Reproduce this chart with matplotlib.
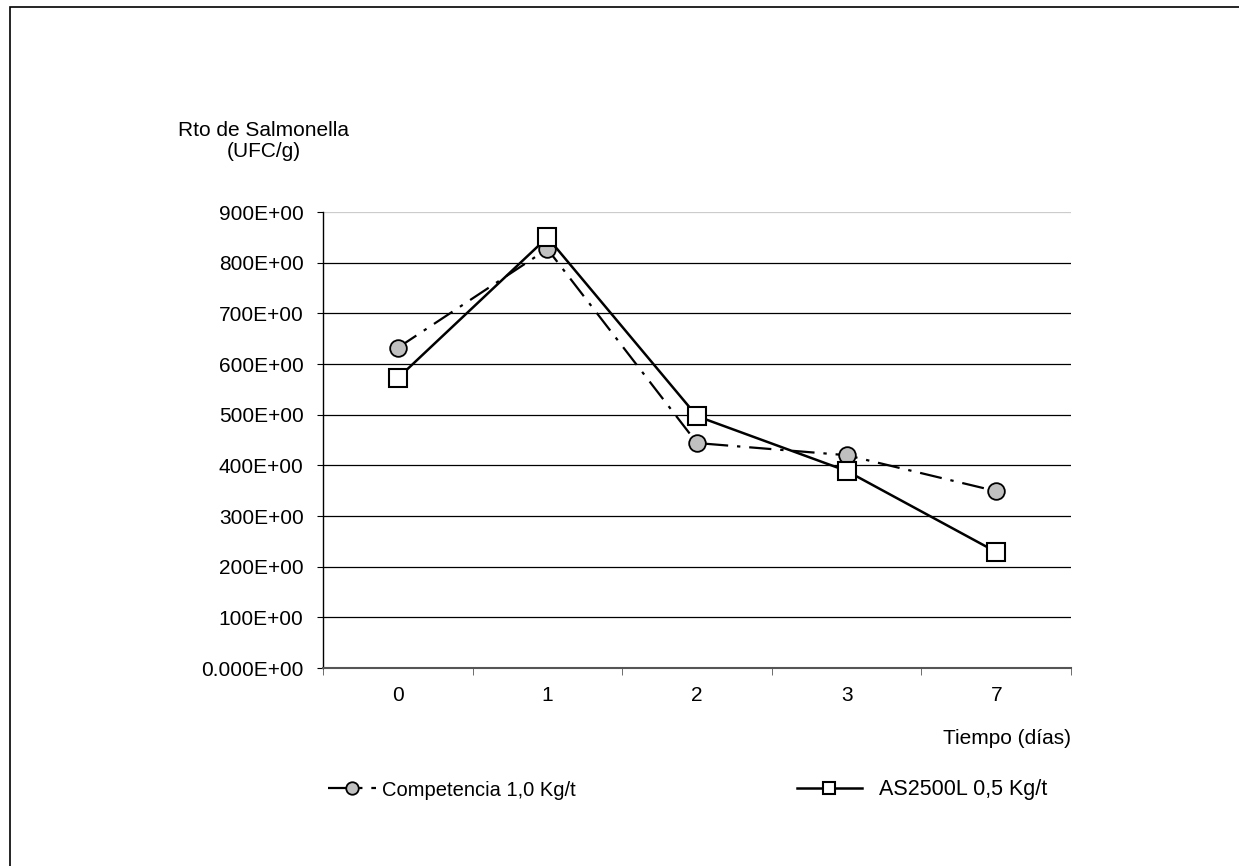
import numpy as np
import matplotlib.pyplot as plt
from matplotlib.patches import Rectangle

plt.rcParams['font.family'] = ['Liberation Sans', 'DejaVu Sans']

dias = ['0', '1', '2', '3', '7']
competencia = [632, 827, 444, 420, 349]
as2500l = [572, 850, 497, 389, 229]
yticks = [0, 100, 200, 300, 400, 500, 600, 700, 800, 900]
ylabels = ['0.000E+00', '100E+00', '200E+00', '300E+00', '400E+00',
           '500E+00', '600E+00', '700E+00', '800E+00', '900E+00']

fig = plt.figure(figsize=(12.39, 8.66), dpi=100)
fig.patches.append(Rectangle((10 / 1239, -0.1), 1.2, 1.1 - 7 / 866,
                             transform=fig.transFigure, fill=False,
                             edgecolor='black', linewidth=1.2))

ax = fig.add_axes([323 / 1239, 1 - 668 / 866, 748 / 1239, 456 / 866])
x = np.arange(len(dias))

l1, = ax.plot(x, competencia, color='black', linestyle=(0, (10, 4, 1.5, 4)), linewidth=1.6,
              marker='o', markersize=12, markerfacecolor='#c0c0c0',
              markeredgecolor='black', markeredgewidth=1.3, zorder=3)
l2, = ax.plot(x, as2500l, color='black', linestyle='-', linewidth=1.8,
              marker='s', markersize=12.5, markerfacecolor='white',
              markeredgecolor='black', markeredgewidth=1.5, zorder=4)

ax.set_xlim(-0.5, len(dias) - 0.5)
ax.set_ylim(0, 900)
ax.set_yticks(yticks)
ax.set_yticklabels(ylabels, fontsize=15)
ax.set_xticks(x)
ax.set_xticklabels(dias, fontsize=15)
ax.set_xticks(np.arange(len(dias) + 1) - 0.5, minor=True)
ax.tick_params(axis='x', which='major', length=0, pad=13)
ax.tick_params(axis='x', which='minor', length=5, direction='out', color='#555555')
ax.tick_params(axis='y', length=4, direction='out', pad=10)

for v in yticks[1:-1]:
    ax.axhline(v, color='black', linewidth=0.9, zorder=1)
ax.axhline(yticks[-1], color='#cccccc', linewidth=0.9, zorder=1)

for s in ['top', 'right']:
    ax.spines[s].set_visible(False)
ax.spines['left'].set_linewidth(1.0)
ax.spines['bottom'].set_color('#555555')
ax.spines['bottom'].set_linewidth(1.5)

fig.text(264 / 1239, 1 - 141 / 866, 'Rto de Salmonella\n(UFC/g)', ha='center',
         va='center', fontsize=15, linespacing=1.1)
fig.text(1071 / 1239, 1 - 738 / 866, 'Tiempo (días)', ha='right', va='center', fontsize=15)

leg1 = fig.legend([l1], ['Competencia 1,0 Kg/t'], loc='center left',
                  bbox_to_anchor=(328 / 1239, 1 - 790 / 866), frameon=False,
                  fontsize=14.5, handlelength=2.4, borderpad=0, borderaxespad=0,
                  handletextpad=0.3)
leg2 = fig.legend([l2], ['AS2500L 0,5 Kg/t'], loc='center left',
                  bbox_to_anchor=(797 / 1239, 1 - 790 / 866), frameon=False,
                  fontsize=15.5, handlelength=3.0, borderpad=0, borderaxespad=0,
                  handletextpad=0.8)
for leg in (leg1, leg2):
    for h in leg.legend_handles:
        h.set_markersize(9)

fig.savefig('out.png', dpi=100)
